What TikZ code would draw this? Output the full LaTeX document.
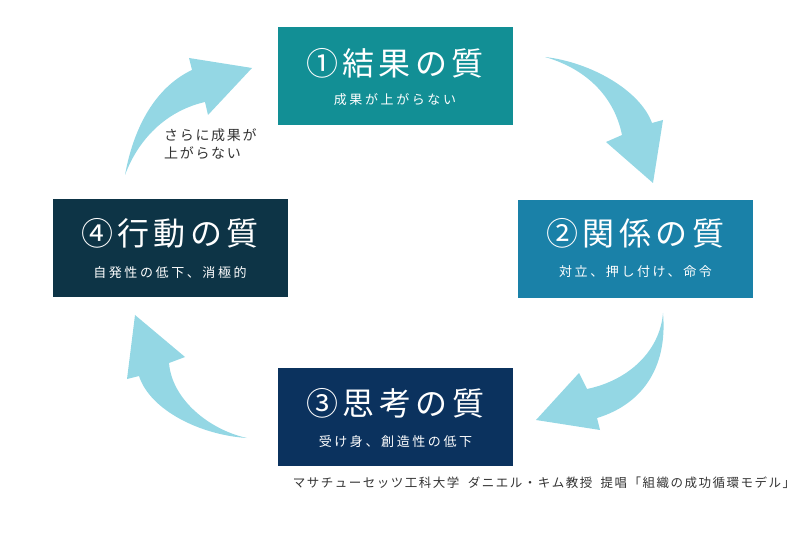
\documentclass[tikz,border=0pt]{standalone}
\usepackage{fontspec}
\usepackage{xcolor}
\usepackage{tikz}
\usetikzlibrary{calc}

\newfontfamily\jptitle[LetterSpace=14]{Noto Sans CJK JP}
\newfontfamily\jpsub[LetterSpace=20]{Noto Sans CJK JP}
\newfontfamily\jpnote[LetterSpace=12]{Noto Sans CJK JP}
\newfontfamily\jpfoot[LetterSpace=12]{Noto Sans CJK JP}

\definecolor{resultc}{HTML}{128F95}
\definecolor{relatc}{HTML}{1A81A8}
\definecolor{thinkc}{HTML}{0B325E}
\definecolor{actc}{HTML}{0D3446}
\definecolor{flowc}{HTML}{94D7E4}
\definecolor{inkc}{HTML}{333333}

\begin{document}
\begin{tikzpicture}[
  x=1pt, y=-1pt,
  box/.style={
      draw=none,
      minimum width=235pt,
      minimum height=98pt,
      inner sep=0pt
  },
  head/.style={text=white, inner sep=0pt, font=\jptitle\fontsize{32}{36}\selectfont},
  sub/.style={text=white, inner sep=0pt, font=\jpsub\fontsize{13}{16}\selectfont},
  flow/.style={fill=flowc, draw=none}
]
\useasboundingbox (0,0) rectangle (800,534);

% quality boxes
\node[box, fill=resultc] (result)  at (395,76)    {};
\node[box, fill=relatc]  (relat)   at (635.5,249) {};
\node[box, fill=thinkc]  (think)   at (395.5,417) {};
\node[box, fill=actc]    (act)     at (170,248)   {};

\node[head] (resultT) at ([yshift=13pt]result.center)  {①結果の質};
\node[sub]  (resultS) at ([yshift=-24pt]result.center) {成果が上がらない};
\node[head] (relatT)  at ([yshift=16pt]relat.center)   {②関係の質};
\node[sub]  (relatS)  at ([yshift=-23pt]relat.center)  {対立、押し付け、命令};
\node[head] (thinkT)  at ([yshift=14pt]think.center)   {③思考の質};
\node[sub]  (thinkS)  at ([yshift=-25pt]think.center)  {受け身、創造性の低下};
\node[head] (actT)    at ([yshift=15pt]act.center)     {④行動の質};
\node[sub]  (actS)    at ([yshift=-25pt]act.center)    {自発性の低下、消極的};

% cycle arrows
\fill[flow] (125,175) .. controls (135,120) and (160,85) .. (192,70)
  -- (189,58) -- (252,68) -- (208,115) -- (205,102)
  .. controls (170,110) and (140,135) .. (125,175) -- cycle;
\fill[flow] (545,57) .. controls (590,62) and (640,90) .. (652,123)
  -- (663,120) -- (653,183) -- (606,142) -- (622,135)
  .. controls (615,100) and (590,70) .. (545,57) -- cycle;
\fill[flow] (663,313) .. controls (668,370) and (640,405) .. (597,418)
  -- (600,430) -- (536,420) -- (579,373) -- (587,389)
  .. controls (630,380) and (660,350) .. (663,313) -- cycle;
\fill[flow] (247,438) .. controls (200,435) and (150,410) .. (139,376)
  -- (127,379) -- (135,315) -- (185,357) -- (169,363)
  .. controls (172,400) and (210,430) .. (247,438) -- cycle;

\node[anchor=west, align=left, text=inkc, inner sep=0pt,
      font=\jpnote\fontsize{14}{18}\selectfont] (again) at (164,144)
  {さらに成果が\\上がらない};

\node[text=inkc, inner sep=0pt, font=\jpfoot\fontsize{12.5}{14}\selectfont] (source) at (544,483)
  {マサチューセッツ工科大学\hspace{4pt} ダニエル・キム教授\hspace{4pt} 提唱「組織の成功循環モデル」};

\end{tikzpicture}
\end{document}
